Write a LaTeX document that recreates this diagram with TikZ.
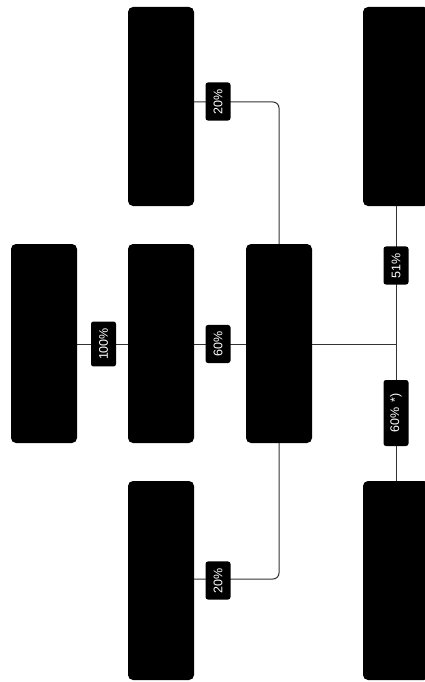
\documentclass[tikz,border=0pt]{standalone}
\usepackage{fontspec}
\setmainfont{Liberation Sans}
\begin{document}
\begin{tikzpicture}[x=1pt,y=-1pt,
  bigbox/.style={fill=black,draw=none,rounded corners=5pt,minimum width=66pt,minimum height=199pt,inner sep=0pt},
  pct/.style={fill=black,draw=none,rounded corners=2.5pt,text=white,rotate=90,font=\fontsize{12.5}{14}\selectfont,inner xsep=6.5pt,inner ysep=4pt,minimum height=25pt},
  conn/.style={draw=black!80,line width=1pt}]
\useasboundingbox (0,0) rectangle (425,682);
\node[bigbox] (A) at (161,106.5) {};
\node[bigbox] (B) at (396,106.5) {};
\node[bigbox] (L) at (44,343.5) {};
\node[bigbox] (M) at (161,343.5) {};
\node[bigbox] (C) at (279,343.5) {};
\node[bigbox] (D) at (161,580.5) {};
\node[bigbox] (E) at (396,580.5) {};
\coordinate (J) at (396,344.5);
\draw[conn] (L.east |- 0,344.5) -- (M.west |- 0,344.5);
\draw[conn] (M.east |- 0,344.5) -- (C.west |- 0,344.5);
\draw[conn] (C.east |- J) -- (J);
\draw[conn] (B.south) -- (E.north);
\draw[conn,rounded corners=6pt] (C.north) |- ([yshift=4.5pt]A.east);
\draw[conn,rounded corners=6pt] (C.south) |- ([yshift=1.5pt]D.east);
\node[pct] (p1) at (218,101.5) {20\%};
\node[pct] (p2) at (103.5,344) {100\%};
\node[pct] (p3) at (218,344) {60\%};
\node[pct] (p4) at (396,265.5) {51\%};
\node[pct,minimum width=66pt] (p5) at (396,413) {60\%\hspace{0.4em}*)};
\node[pct] (p6) at (218,580.5) {20\%};
\end{tikzpicture}
\end{document}
